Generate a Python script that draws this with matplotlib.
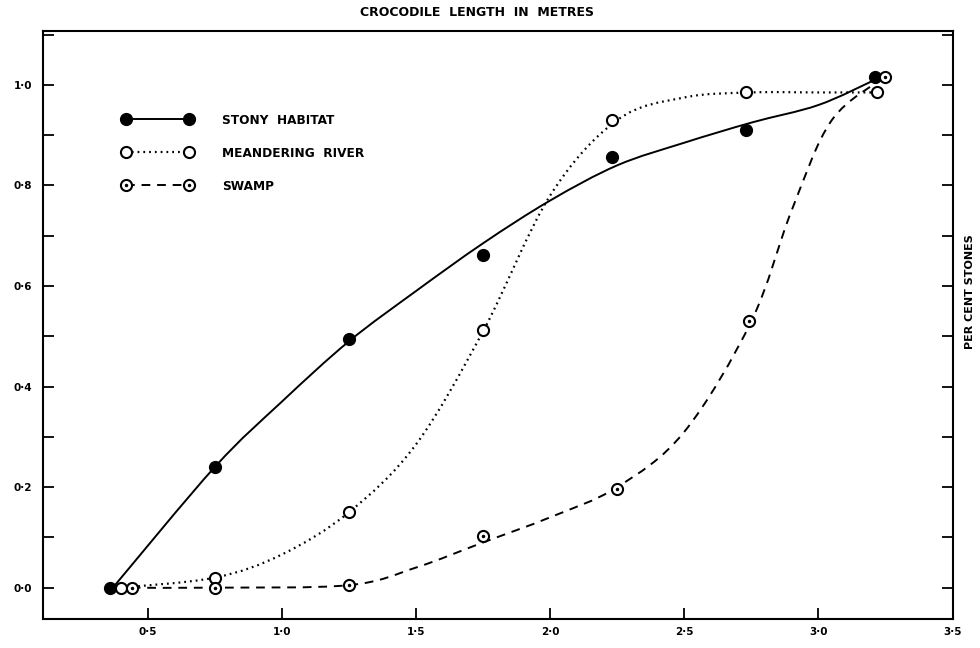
import numpy as np
import matplotlib.pyplot as plt
from matplotlib.path import Path
from matplotlib.patches import PathPatch
from matplotlib.lines import Line2D
from matplotlib.legend_handler import HandlerTuple
from matplotlib.ticker import MultipleLocator, FixedLocator

# Observed points (crocodile length in metres, proportion of stones)
stony_x = [0.36, 0.75, 1.25, 1.75, 2.23, 2.73, 3.21]
stony_y = [0.0, 0.24, 0.495, 0.662, 0.857, 0.91, 1.016]

river_x = [0.40, 0.75, 1.25, 1.75, 2.23, 2.73, 3.22]
river_y = [0.0, 0.02, 0.15, 0.513, 0.93, 0.985, 0.985]

swamp_x = [0.44, 0.75, 1.25, 1.75, 2.25, 2.74, 3.25]
swamp_y = [0.0, 0.0, 0.005, 0.103, 0.197, 0.53, 1.016]

# Hand-fitted curves (knots)
stony_cx = [0.37, 0.75, 1.0, 1.25, 1.5, 1.75, 2.0, 2.25, 2.5, 2.75, 3.0, 3.21]
stony_cy = [0.0, 0.24, 0.37, 0.49, 0.59, 0.685, 0.77, 0.84, 0.885, 0.925, 0.96, 1.01]

river_cx = [0.40, 0.75, 1.0, 1.25, 1.5, 1.75, 2.0, 2.25, 2.5, 2.75, 3.0, 3.22]
river_cy = [0.0, 0.02, 0.066, 0.15, 0.285, 0.51, 0.78, 0.93, 0.975, 0.985, 0.985, 0.985]

swamp_cx = [0.44, 0.75, 1.25, 1.5, 1.75, 2.0, 2.25, 2.5, 2.75, 2.9, 3.05, 3.25]
swamp_cy = [0.0, 0.0, 0.005, 0.04, 0.09, 0.14, 0.2, 0.31, 0.53, 0.75, 0.93, 1.016]

x_ticks = [0.5, 1.0, 1.5, 2.0, 2.5, 3.0, 3.5]
x_labels = ['0·5', '1·0', '1·5', '2·0', '2·5', '3·0', '3·5']
y_ticks = [0.0, 0.2, 0.4, 0.6, 0.8, 1.0]
y_labels = ['0·0', '0·2', '0·4', '0·6', '0·8', '1·0']


def smooth_path(xs, ys):
    # Catmull-Rom knots turned into cubic Bezier segments
    pts = np.column_stack([xs, ys]).astype(float)
    ext = np.vstack([pts[0], pts, pts[-1]])
    verts = [pts[0]]
    codes = [Path.MOVETO]
    for i in range(1, len(ext) - 2):
        p0, p1, p2, p3 = ext[i - 1], ext[i], ext[i + 1], ext[i + 2]
        verts += [p1 + (p2 - p0) / 6, p2 - (p3 - p1) / 6, p2]
        codes += [Path.CURVE4] * 3
    return Path(verts, codes)


dotted = (0, (0.8, 1.8))
dashed = (0, (4.5, 3.5))

fig = plt.figure(figsize=(9.8, 6.48), dpi=100)
ax = fig.add_axes([0.044, 0.045, 0.928, 0.907])

lw = 1.4
ax.add_patch(PathPatch(smooth_path(stony_cx, stony_cy), fill=False,
                       lw=lw, ec='black', ls='-'))
ax.add_patch(PathPatch(smooth_path(river_cx, river_cy), fill=False,
                       lw=1.6, ec='black', ls=dotted))
ax.add_patch(PathPatch(smooth_path(swamp_cx, swamp_cy), fill=False,
                       lw=lw, ec='black', ls=dashed))

ax.plot(stony_x, stony_y, 'o', ms=8.5, mfc='black', mec='black', zorder=5)
ax.plot(river_x, river_y, 'o', ms=8, mfc='white', mec='black', mew=1.5, zorder=5)
ax.plot(swamp_x, swamp_y, 'o', ms=8, mfc='white', mec='black', mew=1.5, zorder=5)
ax.plot(swamp_x, swamp_y, '.', ms=3, color='black', zorder=6)

ax.set_xlim(0.11, 3.5)
ax.set_ylim(-0.062, 1.107)

ax.xaxis.set_major_locator(FixedLocator(x_ticks))
ax.set_xticklabels(x_labels)
ax.yaxis.set_major_locator(FixedLocator(y_ticks))
ax.set_yticklabels(y_labels)
ax.yaxis.set_minor_locator(MultipleLocator(0.1))
ax.tick_params(axis='both', which='both', direction='in', length=8, width=1.3,
               labelsize=7.5, colors='black')
ax.tick_params(axis='y', which='both', left=True, right=True)
ax.tick_params(axis='x', pad=6)
ax.tick_params(axis='y', pad=8)
for lab in ax.get_xticklabels() + ax.get_yticklabels():
    lab.set_fontweight('bold')
for s in ax.spines.values():
    s.set_linewidth(1.5)

h_stony = Line2D([], [], color='black', lw=lw, marker='o', ms=8.5, mfc='black')
h_river = Line2D([], [], color='black', lw=1.6, ls=dotted, marker='o',
                 ms=8, mfc='white', mew=1.5)
h_swamp = Line2D([], [], color='black', lw=lw, ls=dashed, marker='o',
                 ms=8, mfc='white', mew=1.5)
h_dot = Line2D([], [], color='black', ls='none', marker='.', ms=3)
leg = ax.legend([h_stony, h_river, (h_swamp, h_dot)],
                ['STONY  HABITAT', 'MEANDERING  RIVER', 'SWAMP'],
                handler_map={tuple: HandlerTuple(ndivide=1, pad=0)},
                loc='upper left', bbox_to_anchor=(0.075, 0.878), frameon=False,
                numpoints=2, handlelength=5.8, handletextpad=2.5,
                labelspacing=1.65, prop={'size': 8.7, 'weight': 'bold'})

fig.text(0.487, 0.981, 'CROCODILE  LENGTH  IN  METRES', ha='center', va='center',
         fontsize=9, fontweight='bold')
fig.text(0.99, 0.55, 'PER CENT STONES', ha='center', va='center', rotation=90,
         fontsize=8, fontweight='bold')

fig.savefig('out.png', dpi=100)
